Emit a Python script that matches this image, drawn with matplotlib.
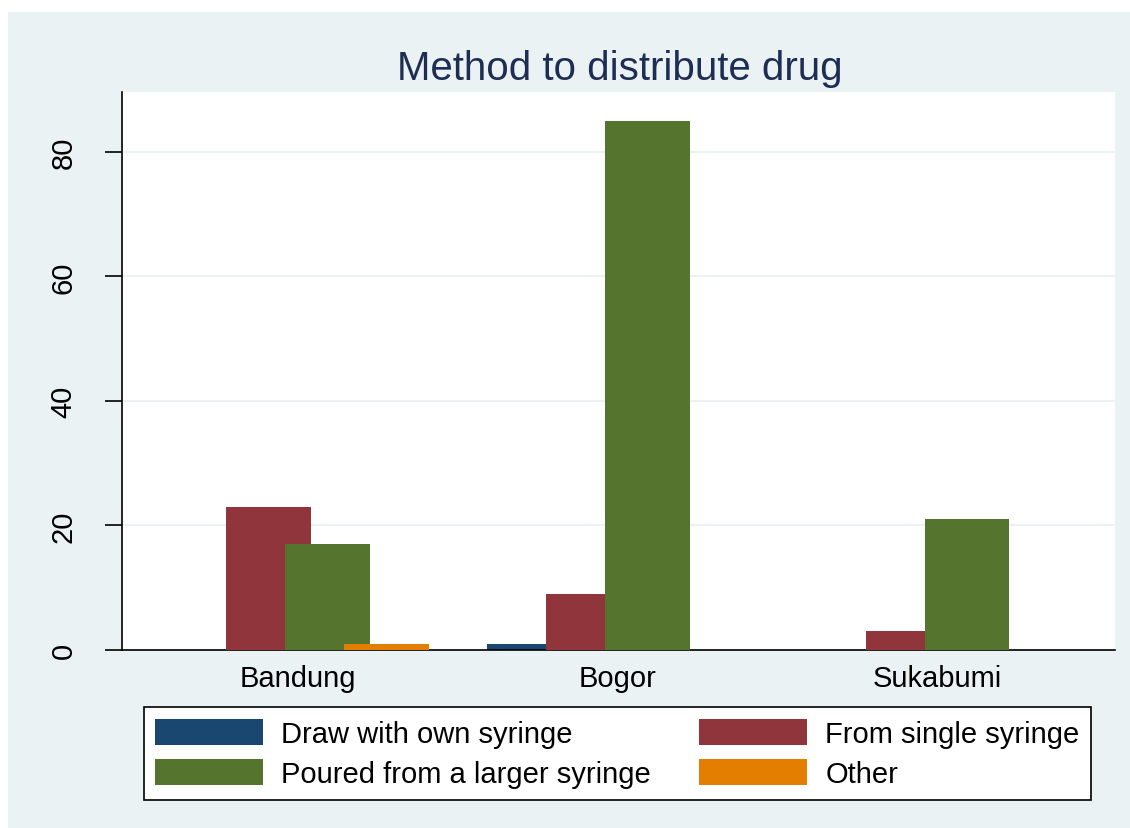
import matplotlib
matplotlib.use("Agg")
import matplotlib.pyplot as plt
import numpy as np
from matplotlib.patches import Rectangle

regions = ["Bandung", "Bogor", "Sukabumi"]
series = ["Draw with own syringe", "From single syringe",
          "Poured from a larger syringe", "Other"]
draw_own = [0, 1, 0]
single = [23, 9, 3]
poured = [17, 85, 21]
other = [1, 0, 0]
values = [draw_own, single, poured, other]
colors = ["#1A476F", "#90353B", "#55752F", "#E37E00"]

bg = "#EAF2F3"
plt.rcParams['font.family'] = ['Liberation Sans', 'DejaVu Sans']

fig = plt.figure(figsize=(11.30, 8.29), dpi=100, facecolor="white")
# light outer region (Stata graph region), white margin top/left
outer = Rectangle((8 / 1130, 0), 1, 1 - 13 / 829, transform=fig.transFigure,
                  facecolor=bg, edgecolor="none", zorder=-10)
fig.add_artist(outer)

ax = fig.add_axes([122 / 1130, 1 - 651 / 829, (1115 - 122) / 1130, (651 - 93) / 829])
ax.set_facecolor("white")

x = np.arange(len(regions))
step = 59 / 320
width = 85 / 320
handles = []
for i, (vals, col, name) in enumerate(zip(values, colors, series)):
    h = ax.bar(x + (i - 1.5) * step, vals, width=width, color=col, label=name,
               zorder=2 + i, linewidth=0)
    handles.append(h)

ax.set_xlim(-0.55, 2.555)
ax.set_ylim(0, 89.6)
ax.set_yticks([0, 20, 40, 60, 80])
ax.set_xticks(x)
ax.set_xticklabels(regions)
ax.tick_params(axis='x', length=0, pad=10, labelsize=21)
ax.tick_params(axis='y', length=12, width=1.2, pad=20, labelsize=21,
               labelrotation=90)
for lab in ax.get_yticklabels():
    lab.set_va('center')
ax.grid(axis='y', color=bg, linewidth=1.5, zorder=1)
ax.set_axisbelow(True)
for s in ["top", "right"]:
    ax.spines[s].set_visible(False)
ax.spines["left"].set_linewidth(1.2)
ax.spines["bottom"].set_linewidth(1.2)

fig.text(620 / 1130, 1 - 80 / 829, "Method to distribute drug", ha="center",
         va="baseline", fontsize=29, color="#1E2D53")

# row-wise order like Stata: legend fills columns, so reorder
order = [0, 2, 1, 3]
leg = fig.legend([handles[k] for k in order], [series[k] for k in order],
                 loc="center", bbox_to_anchor=(617.5 / 1130, 1 - 754.5 / 829),
                 ncol=2, fontsize=21, frameon=True, fancybox=False,
                 edgecolor="black", facecolor="white", framealpha=1,
                 handlelength=3.7, handleheight=1.0, handletextpad=0.62,
                 columnspacing=1.65, labelspacing=0.37, borderpad=0.4)
leg.get_frame().set_linewidth(1.2)

fig.savefig("out.png", dpi=100, facecolor=fig.get_facecolor())
